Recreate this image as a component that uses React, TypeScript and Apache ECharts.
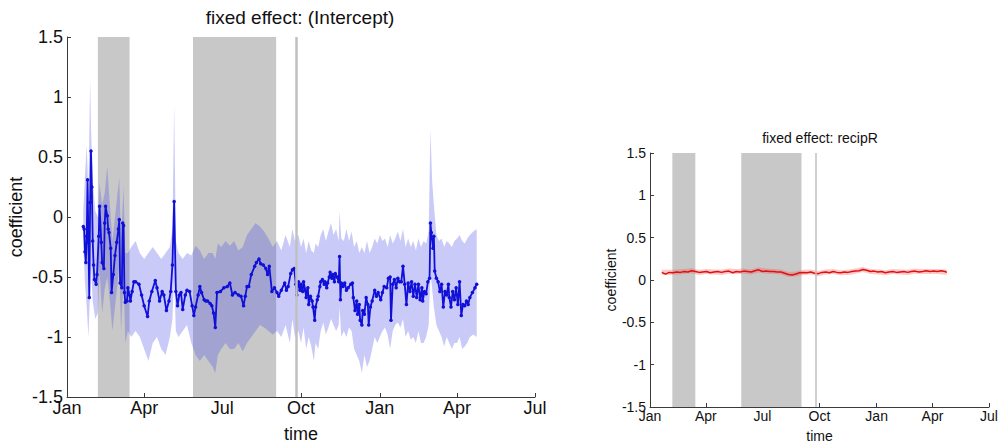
import React, { useEffect, useRef } from "react";
import * as echarts from "echarts";

// x values are days counted from Jan 1 of the first year
const monthTicks = [0, 90, 181, 273, 365, 455, 546];
const monthLabels = ["Jan", "Apr", "Jul", "Oct", "Jan", "Apr", "Jul"];
const shadedPeriods: [number, number][] = [[36, 73], [147, 244]];
const eventDay = 267;

// fixed effect: (Intercept) — [day, coefficient]
const interceptPoints: [number, number][] = [
  [19, -0.08], [20, -0.10], [21, -0.29], [22, -0.38], [23, -0.16], [24, 0.31], [25, -0.21], [26, -0.67],
  [27, 0.12], [28, 0.55], [29, 0.25], [30, -0.20], [31, -0.40], [32, -0.52], [34, -0.56], [35, -0.48],
  [37, -0.16], [38, 0.09], [40, -0.21], [41, -0.38], [43, -0.43], [44, -0.05], [45, 0.09], [47, 0.01],
  [48, -0.10], [49, -0.13], [51, -0.26], [52, -0.63], [54, -0.48], [56, -0.32], [58, -0.21], [60, -0.10],
  [61, -0.02], [62, -0.55], [64, -0.59], [65, -0.05], [66, -0.07], [67, -0.63], [68, -0.71], [70, -0.70],
  [71, -0.59], [73, -0.65], [74, -0.70], [76, -0.62], [78, -0.54], [80, -0.54], [84, -0.56], [87, -0.65],
  [90, -0.74], [94, -0.83], [96, -0.70], [99, -0.62], [103, -0.53], [105, -0.59], [108, -0.70], [111, -0.62],
  [113, -0.65], [116, -0.78], [119, -0.70], [121, -0.62], [123, -0.40], [125, 0.13], [127, -0.62], [129, -0.74],
  [131, -0.65], [133, -0.63], [135, -0.77], [138, -0.65], [140, -0.61], [143, -0.62], [146, -0.74], [148, -0.82],
  [150, -0.75], [153, -0.65], [155, -0.58], [157, -0.63], [160, -0.69], [162, -0.70], [164, -0.70], [167, -0.72],
  [169, -0.74], [171, -0.80], [173, -0.92], [175, -0.63], [179, -0.62], [183, -0.59], [187, -0.58], [190, -0.55],
  [193, -0.65], [196, -0.63], [200, -0.65], [203, -0.66], [206, -0.74], [208, -0.66], [210, -0.58], [212, -0.58],
  [215, -0.48], [219, -0.41], [221, -0.38], [224, -0.35], [226, -0.39], [229, -0.40], [232, -0.43], [234, -0.48],
  [236, -0.41], [239, -0.62], [242, -0.59], [245, -0.63], [247, -0.66], [250, -0.61], [254, -0.55], [256, -0.61],
  [258, -0.58], [261, -0.47], [263, -0.44], [265, -0.43], [267, -0.56], [268, -0.65], [270, -0.54], [272, -0.61],
  [273, -0.56], [275, -0.62], [276, -0.54], [278, -0.61], [279, -0.67], [281, -0.59], [282, -0.73], [284, -0.66],
  [286, -0.70], [287, -0.75], [289, -0.86], [290, -0.75], [292, -0.69], [293, -0.66], [295, -0.58], [296, -0.54],
  [298, -0.52], [300, -0.56], [301, -0.54], [303, -0.59], [304, -0.55], [306, -0.50], [307, -0.46], [309, -0.51],
  [310, -0.48], [312, -0.54], [313, -0.47], [315, -0.50], [317, -0.54], [318, -0.33], [319, -0.69], [320, -0.55],
  [322, -0.58], [324, -0.55], [326, -0.61], [328, -0.59], [331, -0.56], [333, -0.55], [334, -0.67], [336, -0.78],
  [338, -0.70], [339, -0.81], [341, -0.73], [342, -0.86], [344, -0.90], [345, -0.78], [347, -0.81], [349, -0.67],
  [351, -0.73], [352, -0.90], [354, -0.75], [356, -0.70], [359, -0.61], [361, -0.66], [363, -0.63], [366, -0.69],
  [368, -0.63], [370, -0.58], [373, -0.59], [375, -0.51], [377, -0.50], [378, -0.86], [380, -0.56], [382, -0.52],
  [384, -0.59], [386, -0.51], [388, -0.54], [390, -0.54], [392, -0.41], [394, -0.56], [396, -0.73], [398, -0.55],
  [400, -0.62], [402, -0.54], [404, -0.66], [406, -0.56], [408, -0.67], [410, -0.56], [412, -0.69], [414, -0.59],
  [415, -0.70], [417, -0.62], [419, -0.64], [421, -0.54], [423, -0.51], [424, -0.05], [425, -0.13], [427, -0.26],
  [428, -0.16], [429, -0.45], [431, -0.51], [433, -0.54], [435, -0.62], [437, -0.56], [439, -0.75], [441, -0.62],
  [443, -0.65], [445, -0.56], [446, -0.67], [448, -0.75], [450, -0.62], [452, -0.69], [454, -0.59], [456, -0.73],
  [458, -0.54], [460, -0.82], [462, -0.73], [464, -0.74], [466, -0.70], [468, -0.73], [470, -0.67], [473, -0.63],
  [476, -0.59], [478, -0.56],
];

// confidence band for (Intercept) — [day, lower, upper]
const interceptBand: [number, number, number][] = [
  [19, -0.25, 0.05], [21, -0.55, 0.35], [23, -0.75, 0.6], [25, -1.0, 0.2], [27, -0.6, 1.15], [28, -0.4, 0.75],
  [30, -0.7, 0.3], [33, -0.85, 0.05], [36, -0.8, 0.0], [38, -0.45, 0.28], [41, -0.8, 0.1], [44, -0.6, 0.2],
  [47, -0.5, 0.42], [50, -0.7, 0.1], [53, -0.95, -0.2], [56, -0.75, 0.0], [59, -0.55, 0.2], [61, -0.4, 0.33],
  [63, -0.95, -0.2], [66, -0.5, 0.25], [68, -1.05, -0.3], [71, -0.95, -0.3], [75, -1.0, -0.25], [80, -0.95, -0.2],
  [85, -1.0, -0.3], [90, -1.1, -0.35], [95, -1.2, -0.3], [100, -1.05, -0.25], [105, -1.0, -0.3], [110, -1.1, -0.35],
  [115, -1.15, -0.3], [120, -1.0, -0.25], [123, -0.85, -0.1], [125, -0.5, 0.93], [127, -0.95, -0.2], [130, -1.0, -0.3],
  [135, -0.95, -0.35], [140, -0.9, -0.3], [145, -1.05, -0.32], [150, -1.15, -0.24], [155, -1.2, -0.28], [160, -1.15, -0.35],
  [165, -1.2, -0.3], [170, -1.25, -0.3], [173, -1.3, -0.35], [176, -1.15, -0.22], [180, -1.1, -0.25], [185, -1.05, -0.2],
  [190, -1.1, -0.24], [195, -1.1, -0.2], [200, -1.05, -0.28], [205, -1.12, -0.25], [210, -1.05, -0.15], [215, -1.0, -0.1],
  [220, -0.95, -0.05], [225, -0.9, -0.08], [230, -0.92, -0.12], [235, -0.95, -0.18], [240, -0.98, -0.25], [245, -0.95, -0.2],
  [250, -1.0, -0.28], [255, -0.9, -0.15], [260, -1.05, -0.25], [263, -0.85, -0.1], [266, -1.0, -0.2], [270, -0.95, -0.15],
  [273, -1.05, -0.25], [276, -0.92, -0.18], [279, -1.1, -0.3], [282, -1.0, -0.2], [285, -1.08, -0.28], [288, -1.2, -0.3],
  [290, -1.05, -0.22], [293, -1.1, -0.25], [296, -0.95, -0.15], [299, -0.88, -0.1], [302, -0.98, -0.2], [305, -0.92, -0.12],
  [308, -0.85, -0.05], [311, -0.9, -0.15], [314, -0.95, -0.1], [317, -0.9, -0.2], [318, -0.75, 0.05], [320, -1.0, -0.18],
  [323, -0.95, -0.2], [326, -1.0, -0.1], [329, -0.92, -0.2], [332, -0.95, -0.12], [335, -1.1, -0.25], [338, -1.15, -0.2],
  [341, -1.2, -0.3], [344, -1.3, -0.25], [347, -1.15, -0.3], [350, -1.25, -0.2], [353, -1.2, -0.3], [356, -1.1, -0.25],
  [359, -1.0, -0.18], [362, -1.05, -0.22], [365, -1.0, -0.15], [368, -0.95, -0.2], [371, -0.92, -0.18], [374, -0.98, -0.25],
  [377, -1.1, -0.15], [380, -0.95, -0.22], [383, -0.9, -0.18], [386, -0.88, -0.12], [389, -0.92, -0.2], [392, -0.85, -0.1],
  [395, -1.0, -0.25], [398, -0.95, -0.18], [401, -1.02, -0.25], [404, -1.0, -0.2], [407, -1.05, -0.28], [410, -0.95, -0.18],
  [413, -1.05, -0.25], [416, -1.05, -0.2], [419, -1.0, -0.22], [422, -0.9, -0.12], [424, -0.45, 0.73], [426, -0.6, 0.3],
  [428, -0.75, 0.1], [431, -0.9, -0.15], [434, -0.95, -0.2], [437, -1.0, -0.18], [440, -1.08, -0.25], [443, -1.0, -0.2],
  [446, -1.05, -0.22], [449, -1.1, -0.25], [452, -1.05, -0.2], [455, -1.05, -0.18], [458, -1.0, -0.15], [461, -1.1, -0.2],
  [464, -1.08, -0.22], [467, -1.05, -0.18], [470, -1.0, -0.15], [474, -0.98, -0.12], [478, -1.0, -0.1],
];

// fixed effect: recipR — [day, coefficient]
const recipRPoints: [number, number][] = [
  [19, 0.09], [25, 0.07], [31, 0.09], [37, 0.085], [43, 0.095], [49, 0.09], [55, 0.1], [61, 0.095],
  [67, 0.11], [73, 0.1], [79, 0.09], [85, 0.095], [91, 0.1], [97, 0.085], [103, 0.095], [109, 0.1],
  [115, 0.09], [121, 0.1], [127, 0.105], [133, 0.085], [139, 0.1], [145, 0.095], [151, 0.105], [157, 0.1],
  [163, 0.095], [169, 0.11], [175, 0.12], [181, 0.1], [187, 0.105], [193, 0.1], [199, 0.1], [205, 0.095],
  [211, 0.095], [217, 0.08], [223, 0.065], [229, 0.06], [235, 0.07], [241, 0.085], [247, 0.09], [253, 0.085],
  [259, 0.095], [265, 0.08], [271, 0.075], [277, 0.09], [283, 0.095], [289, 0.085], [295, 0.1], [301, 0.09],
  [307, 0.085], [313, 0.095], [319, 0.09], [325, 0.1], [331, 0.105], [337, 0.11], [343, 0.125], [349, 0.115],
  [355, 0.1], [361, 0.105], [367, 0.095], [373, 0.1], [379, 0.085], [385, 0.095], [391, 0.1], [397, 0.09],
  [403, 0.095], [409, 0.1], [415, 0.09], [421, 0.1], [427, 0.105], [433, 0.095], [439, 0.1], [445, 0.11],
  [451, 0.1], [457, 0.105], [463, 0.1], [469, 0.11], [475, 0.1], [478, 0.09],
];

// confidence band for recipR — [day, lower, upper]
const recipRBand: [number, number, number][] = [
  [19, 0.06, 0.12], [31, 0.06, 0.12], [43, 0.065, 0.125], [55, 0.07, 0.13], [67, 0.08, 0.14], [79, 0.06, 0.12],
  [91, 0.07, 0.13], [103, 0.065, 0.125], [115, 0.06, 0.12], [127, 0.075, 0.135], [139, 0.07, 0.13], [151, 0.075, 0.135],
  [163, 0.065, 0.125], [175, 0.09, 0.15], [187, 0.075, 0.135], [199, 0.07, 0.13], [211, 0.065, 0.125], [223, 0.035, 0.095],
  [235, 0.04, 0.1], [247, 0.06, 0.12], [259, 0.065, 0.125], [271, 0.045, 0.105], [283, 0.065, 0.125], [295, 0.07, 0.13],
  [307, 0.055, 0.115], [319, 0.06, 0.12], [331, 0.075, 0.135], [343, 0.095, 0.155], [355, 0.07, 0.13], [367, 0.065, 0.125],
  [379, 0.055, 0.115], [391, 0.07, 0.13], [403, 0.065, 0.125], [415, 0.06, 0.12], [427, 0.075, 0.135], [439, 0.07, 0.13],
  [451, 0.07, 0.13], [463, 0.07, 0.13], [478, 0.06, 0.12],
];

const FONT = '"Liberation Sans", Arial, Helvetica, sans-serif';

function axes(gridIndex: number, fontSize: number, xNameGap: number, yNameGap: number) {
  const axisLine = { show: true, onZero: false, lineStyle: { color: "#3a3a3a", width: 1 } };
  const tick = { show: true, inside: true, length: 4, lineStyle: { color: "#3a3a3a", width: 1 } };
  const labelStyle = { fontSize, color: "#111", fontFamily: FONT };
  const nameStyle = { fontSize, color: "#111", fontFamily: FONT };
  return {
    x: {
      type: "value",
      gridIndex,
      min: 0,
      max: 546,
      axisLine,
      axisTick: { ...tick, customValues: monthTicks },
      axisLabel: {
        ...labelStyle,
        margin: 2,
        customValues: monthTicks,
        formatter: (v: number) => monthLabels[monthTicks.indexOf(Math.round(v))] ?? "",
      },
      splitLine: { show: false },
      name: "time",
      nameLocation: "middle",
      nameGap: xNameGap,
      nameTextStyle: nameStyle,
    },
    y: {
      type: "value",
      gridIndex,
      min: -1.5,
      max: 1.5,
      interval: 0.5,
      axisLine,
      axisTick: tick,
      axisLabel: { ...labelStyle, margin: 4 },
      splitLine: { show: false },
      name: "coefficient",
      nameLocation: "middle",
      nameGap: yNameGap,
      nameTextStyle: nameStyle,
    },
  };
}

function bandSeries(axisIndex: number, band: [number, number, number][], color: string) {
  return {
    type: "custom",
    xAxisIndex: axisIndex,
    yAxisIndex: axisIndex,
    silent: true,
    z: 2,
    data: band,
    encode: { x: 0, y: [1, 2] },
    renderItem: (params: any, api: any) => {
      if (params.dataIndex !== 0) return { type: "group", children: [] };
      const upper = band.map((b) => api.coord([b[0], b[2]]));
      const lower = band.map((b) => api.coord([b[0], b[1]])).reverse();
      return {
        type: "polygon",
        shape: { points: upper.concat(lower) },
        style: { fill: color, stroke: "none" },
      };
    },
  };
}

function shadingSeries(axisIndex: number, lineWidth: number) {
  return {
    type: "line",
    xAxisIndex: axisIndex,
    yAxisIndex: axisIndex,
    data: [],
    z: 1,
    silent: true,
    markArea: {
      silent: true,
      itemStyle: { color: "#c8c8c8" },
      data: shadedPeriods.map((p) => [{ xAxis: p[0] }, { xAxis: p[1] }]),
    },
    markLine: {
      silent: true,
      symbol: "none",
      label: { show: false },
      lineStyle: { color: "#c0c0c0", width: lineWidth, type: "solid" },
      data: [{ xAxis: eventDay }],
    },
  };
}

export default function App() {
  const ref = useRef<HTMLDivElement>(null);

  useEffect(() => {
    if (!ref.current) return;
    const chart = echarts.init(ref.current, undefined, { renderer: "svg" });
    const left = axes(0, 18, 28, 42);
    const right = axes(1, 14, 22, 30);

    chart.setOption({
      animation: false,
      backgroundColor: "#ffffff",
      textStyle: { fontFamily: FONT },
      grid: [
        { left: 67, top: 37, width: 468, height: 367 },
        { left: 650, top: 153, width: 339, height: 264 },
      ],
      xAxis: [left.x, right.x],
      yAxis: [left.y, right.y],
      graphic: [
        {
          type: "text",
          x: 300,
          y: 17,
          style: {
            text: "fixed effect: (Intercept)",
            fontSize: 19,
            fontFamily: FONT,
            fill: "#111",
            align: "center",
            verticalAlign: "middle",
          },
        },
        {
          type: "text",
          x: 820,
          y: 138,
          style: {
            text: "fixed effect: recipR",
            fontSize: 14,
            fontFamily: FONT,
            fill: "#111",
            align: "center",
            verticalAlign: "middle",
          },
        },
      ],
      series: [
        shadingSeries(0, 2.5),
        bandSeries(0, interceptBand, "rgba(80, 80, 235, 0.30)"),
        {
          type: "line",
          xAxisIndex: 0,
          yAxisIndex: 0,
          z: 3,
          data: interceptPoints,
          symbol: "circle",
          symbolSize: 3.5,
          showSymbol: true,
          lineStyle: { color: "#1010d8", width: 1.8 },
          itemStyle: { color: "#1010d8" },
        },
        shadingSeries(1, 1.5),
        bandSeries(1, recipRBand, "rgba(255, 60, 60, 0.28)"),
        {
          type: "line",
          xAxisIndex: 1,
          yAxisIndex: 1,
          z: 3,
          data: recipRPoints,
          symbol: "none",
          lineStyle: { color: "#e01010", width: 1.5 },
        },
      ],
    });

    return () => chart.dispose();
  }, []);

  return (
    <div
      ref={ref}
      style={{ position: "fixed", left: 0, top: 0, width: 1001, height: 448, background: "#fff" }}
    />
  );
}
